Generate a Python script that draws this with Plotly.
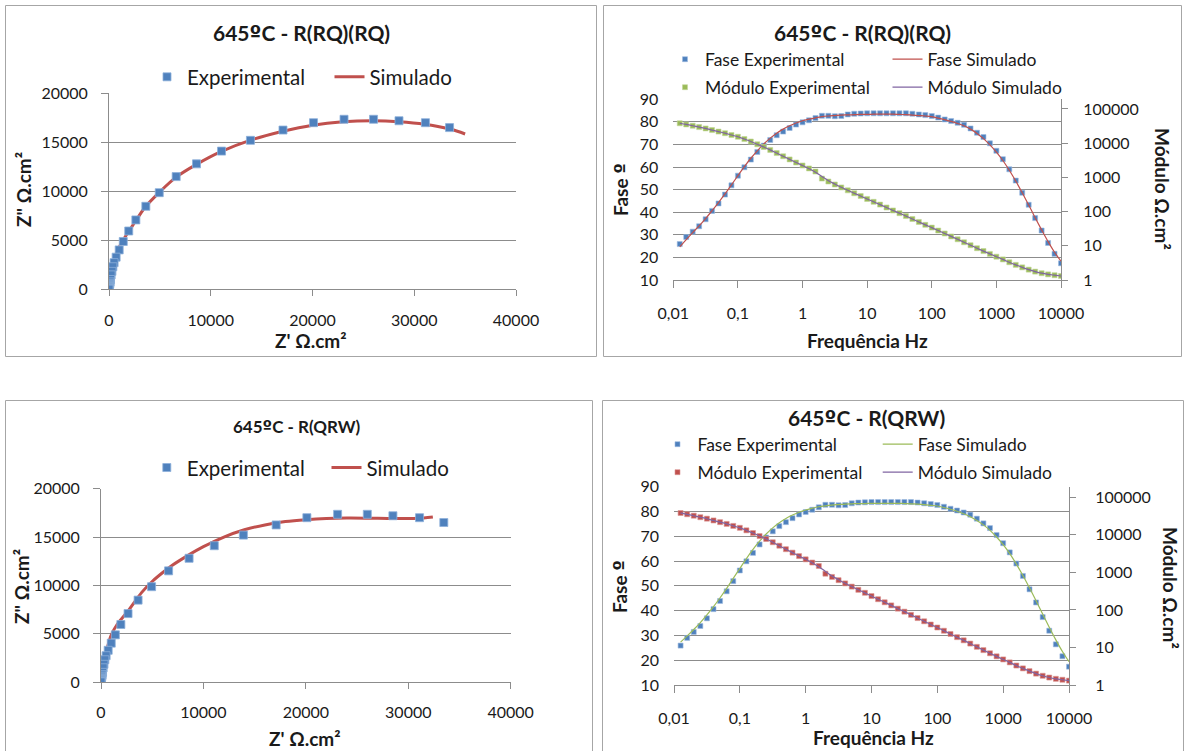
import plotly.graph_objects as go

W, H = 1185, 751

# ---------------- data ----------------
# Frequencies (Hz), 10 points per decade
frequencia = [0.01259, 0.01585, 0.01995, 0.02512, 0.03162, 0.03981, 0.05012, 0.0631, 0.07943, 0.1,
              0.1259, 0.1585, 0.1995, 0.2512, 0.3162, 0.3981, 0.5012, 0.631, 0.7943, 1.0,
              1.259, 1.585, 1.995, 2.512, 3.162, 3.981, 5.012, 6.31, 7.943, 10.0,
              12.59, 15.85, 19.95, 25.12, 31.62, 39.81, 50.12, 63.1, 79.43, 100.0,
              125.9, 158.5, 199.5, 251.2, 316.2, 398.1, 501.2, 631.0, 794.3, 1000.0,
              1259.0, 1585.0, 1995.0, 2512.0, 3162.0, 3981.0, 5012.0, 6310.0, 7943.0, 10000.0]

fase_exp = [25.9, 29.0, 31.4, 33.8, 36.9, 40.6, 43.9, 47.8, 51.9, 56.2,
            59.9, 63.3, 66.7, 69.5, 72.0, 74.1, 75.7, 77.3, 78.8, 79.8,
            80.7, 81.7, 82.7, 82.7, 82.5, 82.6, 83.3, 83.6, 83.7, 83.8,
            83.8, 83.8, 83.8, 83.8, 83.8, 83.8, 83.6, 83.3, 83.0, 82.6,
            81.9, 81.1, 80.4, 79.6, 78.7, 77.1, 75.2, 73.3, 70.5, 67.2,
            63.5, 59.0, 54.0, 48.6, 43.3, 37.4, 31.9, 26.4, 21.6, 17.4]

modulo_exp = [38200, 35400, 32400, 29500, 27000, 24200, 21800, 19600, 17300, 15400,
              13200, 11200, 9290, 7740, 6360, 5140, 4150, 3360, 2720, 2230,
              1830, 1480, 923, 757, 621, 509, 418, 343, 286, 234,
              193, 160, 132, 108, 90, 74, 60.7, 49.8, 40.9, 34.0,
              27.9, 22.9, 18.8, 15.5, 12.7, 10.4, 8.5, 7.0, 5.8, 4.8,
              4.0, 3.3, 2.77, 2.34, 2.01, 1.76, 1.58, 1.46, 1.38, 1.31]

fase_sim_rqrq = [24.7, 27.9, 31.0, 34.0, 37.2, 40.7, 44.3, 48.1, 52.1, 56.2,
                 60.2, 63.9, 67.2, 70.2, 72.8, 75.0, 76.8, 78.3, 79.5, 80.5,
                 81.2, 81.8, 82.3, 82.6, 82.8, 83.0, 83.1, 83.2, 83.3, 83.3,
                 83.4, 83.4, 83.4, 83.4, 83.3, 83.2, 83.0, 82.8, 82.6, 82.3,
                 81.7, 81.0, 80.2, 79.3, 78.3, 76.8, 74.9, 72.6, 69.8, 66.6,
                 62.9, 58.6, 53.8, 48.6, 43.2, 37.6, 32.2, 27.0, 22.3, 18.3]

modulo_sim_rqrq = [38200, 35400, 32400, 29500, 27000, 24200, 21800, 19600, 17300, 15400,
                   13200, 11200, 9290, 7740, 6360, 5140, 4150, 3360, 2720, 2230,
                   1800, 1420, 1060, 800, 640, 515, 420, 345, 285, 234,
                   193, 160, 132, 108, 90, 74, 60.7, 49.8, 40.9, 34.0,
                   27.9, 22.9, 18.8, 15.5, 12.7, 10.4, 8.5, 7.0, 5.8, 4.8,
                   4.0, 3.3, 2.77, 2.34, 2.01, 1.76, 1.58, 1.46, 1.38, 1.31]

fase_sim_qrw = [27.3, 29.8, 32.4, 35.2, 38.3, 41.6, 45.2, 49.0, 53.0, 57.0,
                61.0, 64.7, 68.0, 70.9, 73.4, 75.5, 77.2, 78.6, 79.7, 80.6,
                81.3, 81.9, 82.3, 82.6, 82.8, 83.0, 83.1, 83.2, 83.2, 83.3,
                83.3, 83.3, 83.3, 83.3, 83.2, 83.1, 83.0, 82.8, 82.5, 82.2,
                81.6, 80.9, 80.1, 79.1, 77.9, 76.4, 74.6, 72.4, 69.7, 66.6,
                63.0, 58.8, 54.2, 49.2, 44.0, 38.6, 33.3, 28.2, 23.5, 19.4]

modulo_sim_qrw = [38400, 35300, 32300, 29500, 26900, 24200, 21800, 19600, 17400, 15400,
                  13200, 11200, 9300, 7750, 6360, 5150, 4150, 3360, 2720, 2230,
                  1800, 1420, 1060, 800, 640, 515, 420, 345, 285, 234,
                  193, 160, 132, 108, 90, 74, 60.7, 49.8, 40.9, 34.0,
                  27.9, 22.9, 18.8, 15.5, 12.7, 10.4, 8.5, 7.0, 5.8, 4.8,
                  4.0, 3.3, 2.77, 2.34, 2.01, 1.76, 1.58, 1.46, 1.38, 1.31]

# Nyquist data (ohm.cm2)
zre_exp = [33470, 31100, 28500, 26000, 23100, 20100, 17100, 13900, 11060, 8600,
           6600, 4940, 3620, 2640, 1940, 1400, 1000, 700, 500, 380,
           290, 210, 150, 110, 80, 60, 40, 28, 18, 10, 5, 2]
zim_exp = [16500, 17000, 17200, 17350, 17350, 17000, 16250, 15200, 14100, 12800,
           11500, 9860, 8470, 7080, 5950, 4880, 4020, 3280, 2720, 2300,
           1830, 1470, 1000, 760, 610, 500, 380, 280, 200, 120, 60, 15]

zre_sim_rqrq = [0, 100, 300, 600, 1000, 1500, 2000, 2700, 3600, 5000, 6600, 8600,
                11000, 14000, 17000, 20000, 23000, 26000, 28500, 31000, 33500, 35000]
zim_sim_rqrq = [0, 1000, 2200, 3300, 4300, 5200, 6000, 7100, 8450, 9950, 11450, 12750,
                14050, 15250, 16100, 16750, 17100, 17200, 17100, 16850, 16350, 15850]

zre_sim_qrw = [0, 100, 300, 600, 1000, 1600, 2600, 4000, 5000, 6000, 7000, 8500,
               10000, 12000, 14000, 16000, 18000, 20000, 22000, 24000, 26000, 28000,
               30000, 31500, 32400]
zim_sim_qrw = [0, 1000, 2300, 3500, 4850, 6000, 7300, 9300, 10400, 11300, 12100, 13100,
               14000, 15000, 15750, 16250, 16600, 16800, 16920, 16960, 16950, 16920,
               16920, 16980, 17080]

freq_tickvals = [0.01, 0.1, 1, 10, 100, 1000, 10000]
freq_ticktext = ["0,01", "0,1", "1", "10", "100", "1000", "10000"]
mod_tickvals = [1, 10, 100, 1000, 10000, 100000]
mod_ticktext = ["1", "10", "100", "1000", "10000", "100000"]
fase_tickvals = [10, 20, 30, 40, 50, 60, 70, 80, 90]
nyq_x_ticks = [0, 10000, 20000, 30000, 40000]
nyq_x_text = ["0", "10000", "20000", "30000", "40000"]
nyq_y_ticks = [0, 5000, 10000, 15000, 20000]
nyq_y_text = ["0", "5000", "10000", "15000", "20000"]

# ---------------- style ----------------
BLUE = "#4F81BD"
RED = "#C0504D"
GREEN = "#9BBB59"
PURPLE = "#8064A2"
GRID = "#8C8C8C"
BORDER = "#A6A6A6"
TXT = "#1A1A1A"
FONT = "Lato"
ORD = "<span style=\"font-family:'DejaVu Sans'\">º</span>"


def px(x):
    return x / W


def py(y):
    return 1 - y / H


fig = go.Figure()

# ---- top-left: Nyquist R(RQ)(RQ)
fig.add_trace(go.Scatter(x=zre_sim_rqrq, y=zim_sim_rqrq, mode="lines", name="Simulado",
                         line=dict(color=RED, width=3, shape="spline"),
                         xaxis="x", yaxis="y", legend="legend2"))
fig.add_trace(go.Scatter(x=zre_exp, y=zim_exp, mode="markers", name="Experimental",
                         marker=dict(symbol="square", size=8, color=BLUE,
                                     line=dict(color="#8DB0DA", width=0.8)),
                         xaxis="x", yaxis="y", legend="legend"))

# ---- top-right: Bode R(RQ)(RQ)
fig.add_trace(go.Scatter(x=frequencia, y=fase_exp, mode="markers", name="Fase Experimental",
                         marker=dict(symbol="square", size=5, color=BLUE,
                                     line=dict(color="#9DBBE0", width=0.6)),
                         xaxis="x2", yaxis="y2", legend="legend3"))
fig.add_trace(go.Scatter(x=frequencia, y=fase_sim_rqrq, mode="lines", name="Fase Simulado",
                         line=dict(color=RED, width=1.2, shape="spline"),
                         xaxis="x2", yaxis="y2", legend="legend4"))
fig.add_trace(go.Scatter(x=frequencia, y=modulo_exp, mode="markers", name="Módulo Experimental",
                         marker=dict(symbol="square", size=5, color=GREEN,
                                     line=dict(color="#C3D69B", width=0.6)),
                         xaxis="x2", yaxis="y3", legend="legend5"))
fig.add_trace(go.Scatter(x=frequencia, y=modulo_sim_rqrq, mode="lines", name="Módulo Simulado",
                         line=dict(color=PURPLE, width=1.2, shape="spline"),
                         xaxis="x2", yaxis="y3", legend="legend6"))

# ---- bottom-left: Nyquist R(QRW)
fig.add_trace(go.Scatter(x=zre_sim_qrw, y=zim_sim_qrw, mode="lines", name="Simulado",
                         line=dict(color=RED, width=3, shape="spline"),
                         xaxis="x3", yaxis="y4", legend="legend8"))
fig.add_trace(go.Scatter(x=zre_exp, y=zim_exp, mode="markers", name="Experimental",
                         marker=dict(symbol="square", size=8, color=BLUE,
                                     line=dict(color="#8DB0DA", width=0.8)),
                         xaxis="x3", yaxis="y4", legend="legend7"))

# ---- bottom-right: Bode R(QRW)
fig.add_trace(go.Scatter(x=frequencia, y=fase_exp, mode="markers", name="Fase Experimental",
                         marker=dict(symbol="square", size=5, color=BLUE,
                                     line=dict(color="#9DBBE0", width=0.6)),
                         xaxis="x4", yaxis="y5", legend="legend9"))
fig.add_trace(go.Scatter(x=frequencia, y=fase_sim_qrw, mode="lines", name="Fase Simulado",
                         line=dict(color=GREEN, width=1.2, shape="spline"),
                         xaxis="x4", yaxis="y5", legend="legend10"))
fig.add_trace(go.Scatter(x=frequencia, y=modulo_exp, mode="markers", name="Módulo Experimental",
                         marker=dict(symbol="square", size=5, color=RED,
                                     line=dict(color="#DA9694", width=0.6)),
                         xaxis="x4", yaxis="y6", legend="legend11"))
fig.add_trace(go.Scatter(x=frequencia, y=modulo_sim_qrw, mode="lines", name="Módulo Simulado",
                         line=dict(color=PURPLE, width=1.2, shape="spline"),
                         xaxis="x4", yaxis="y6", legend="legend12"))


def tickfont(size):
    return dict(family=FONT, size=size, color=TXT)


common = dict(automargin=False, zeroline=False, fixedrange=True)

layout_axes = dict(
    # top-left
    xaxis=dict(domain=[px(109), px(516)], range=[0, 40000],
               tickvals=nyq_x_ticks, ticktext=nyq_x_text,
               showgrid=False, showline=True, linecolor=GRID, linewidth=1,
               ticks="outside", ticklen=6, tickcolor=GRID, anchor="y",
               tickfont=tickfont(16), ticklabelstandoff=10, **common),
    yaxis=dict(domain=[py(289.3), py(93.3)], range=[0, 20000],
               tickvals=nyq_y_ticks, ticktext=nyq_y_text,
               showgrid=True, gridcolor=GRID, gridwidth=1, showline=True, linecolor=GRID,
               ticks="outside", ticklen=7, tickcolor=GRID, anchor="x",
               tickfont=tickfont(16), ticklabelstandoff=10, **common),
    # top-right
    xaxis2=dict(domain=[px(673.3), px(1061)], type="log", range=[-2, 4],
                tickvals=freq_tickvals, ticktext=freq_ticktext,
                showgrid=False, showline=True, linecolor=GRID, ticks="outside",
                ticklen=7, tickcolor=GRID, anchor="y2",
                tickfont=tickfont(16), ticklabelstandoff=12, **common),
    yaxis2=dict(domain=[py(280), py(99.3)], range=[10, 90], tickvals=fase_tickvals,
                showgrid=True, gridcolor=GRID, showline=False, ticks="",
                anchor="x2", tickfont=tickfont(16), ticklabelstandoff=14, **common),
    yaxis3=dict(type="log", range=[0, 5.283], overlaying="y2", side="right", anchor="x2",
                tickvals=mod_tickvals, ticktext=mod_ticktext, showgrid=False,
                showline=True, linecolor=GRID, ticks="outside", ticklen=6, tickcolor=GRID,
                tickfont=tickfont(16), ticklabelstandoff=12, **common),
    # bottom-left
    xaxis3=dict(domain=[px(101), px(510.7)], range=[0, 40000],
                tickvals=nyq_x_ticks, ticktext=nyq_x_text,
                showgrid=False, showline=True, linecolor=GRID,
                ticks="outside", ticklen=6, tickcolor=GRID, anchor="y4",
                tickfont=tickfont(16), ticklabelstandoff=10, **common),
    yaxis4=dict(domain=[py(682), py(488.7)], range=[0, 20000],
                tickvals=nyq_y_ticks, ticktext=nyq_y_text,
                showgrid=True, gridcolor=GRID, showline=True, linecolor=GRID,
                ticks="outside", ticklen=7, tickcolor=GRID, anchor="x3",
                tickfont=tickfont(16), ticklabelstandoff=10, **common),
    # bottom-right
    xaxis4=dict(domain=[px(674), px(1069)], type="log", range=[-2, 4],
                tickvals=freq_tickvals, ticktext=freq_ticktext,
                showgrid=False, showline=True, linecolor=GRID, ticks="outside",
                ticklen=7, tickcolor=GRID, anchor="y5",
                tickfont=tickfont(16), ticklabelstandoff=12, **common),
    yaxis5=dict(domain=[py(685), py(486.7)], range=[10, 90], tickvals=fase_tickvals,
                showgrid=True, gridcolor=GRID, showline=False, ticks="",
                anchor="x4", tickfont=tickfont(16), ticklabelstandoff=14, **common),
    yaxis6=dict(type="log", range=[0, 5.283], overlaying="y5", side="right", anchor="x4",
                tickvals=mod_tickvals, ticktext=mod_ticktext, showgrid=False,
                showline=True, linecolor=GRID, ticks="outside", ticklen=6, tickcolor=GRID,
                tickfont=tickfont(16), ticklabelstandoff=16, **common),
)


def leg(x_origin, y_center, size):
    return dict(x=px(x_origin), y=py(y_center), xanchor="left", yanchor="middle",
                orientation="v", bgcolor="rgba(0,0,0,0)", borderwidth=0,
                itemwidth=30, tracegroupgap=0, visible=True,
                font=dict(family=FONT, size=size, color=TXT))


legends = dict(
    legend=leg(147, 77, 20.5), legend2=leg(329.5, 77, 20.5),
    legend3=leg(665, 59.3, 17.5), legend4=leg(887.5, 59.3, 17.5),
    legend5=leg(665, 87.3, 17.5), legend6=leg(887.5, 87.3, 17.5),
    legend7=leg(146.8, 467.7, 20.5), legend8=leg(326.5, 467.7, 20.5),
    legend9=leg(657.5, 444.3, 17.5), legend10=leg(877.7, 444.3, 17.5),
    legend11=leg(657.5, 472.3, 17.5), legend12=leg(877.7, 472.3, 17.5),
)


def label(text, x, y, size, angle=0, bold=True):
    t = f"<b>{text}</b>" if bold else text
    return dict(text=t, x=px(x), y=py(y), xref="paper", yref="paper",
                xanchor="center", yanchor="middle", showarrow=False, textangle=angle,
                font=dict(family=FONT, size=size, color=TXT))


annotations = [
    label(f"645{ORD}C - R(RQ)(RQ)", 301, 33, 21),
    label("Z' Ω.cm²", 311, 340, 19),
    label('Z" Ω.cm²', 23, 190, 19, -90),
    label(f"645{ORD}C - R(RQ)(RQ)", 862, 33, 21),
    label("Frequência Hz", 867, 340, 19),
    label(f"Fase {ORD}", 620, 190, 19, -90),
    label("Módulo Ω.cm²", 1163, 189, 19, 90),
    label(f"645{ORD}C - R(QRW)", 297, 426, 17),
    label("Z' Ω.cm²", 305, 738, 19),
    label('Z" Ω.cm²', 21, 587, 19, -90),
    label(f"645{ORD}C - R(QRW)", 866, 418, 21),
    label("Frequência Hz", 873, 737, 19),
    label(f"Fase {ORD}", 619, 587, 19, -90),
    label("Módulo Ω.cm²", 1171, 588, 19, 90),
]


def frame(x0, y0, x1, y1):
    return dict(type="rect", xref="paper", yref="paper",
                x0=px(x0), x1=px(x1), y0=py(y1), y1=py(y0),
                line=dict(color=BORDER, width=1), fillcolor="rgba(0,0,0,0)", layer="below")


shapes = [
    frame(5.5, 5.5, 596.5, 356.5),
    frame(603.5, 5.5, 1181.5, 356.5),
    frame(5.5, 400.5, 592.5, 760),
    frame(602.5, 400.5, 1183.5, 760),
]

fig.update_layout(
    width=W, height=H, margin=dict(l=0, r=0, t=0, b=0),
    paper_bgcolor="white", plot_bgcolor="white",
    font=dict(family=FONT, color=TXT),
    showlegend=True,
    annotations=annotations, shapes=shapes,
    **layout_axes, **legends,
)

fig.write_html("out.html")
